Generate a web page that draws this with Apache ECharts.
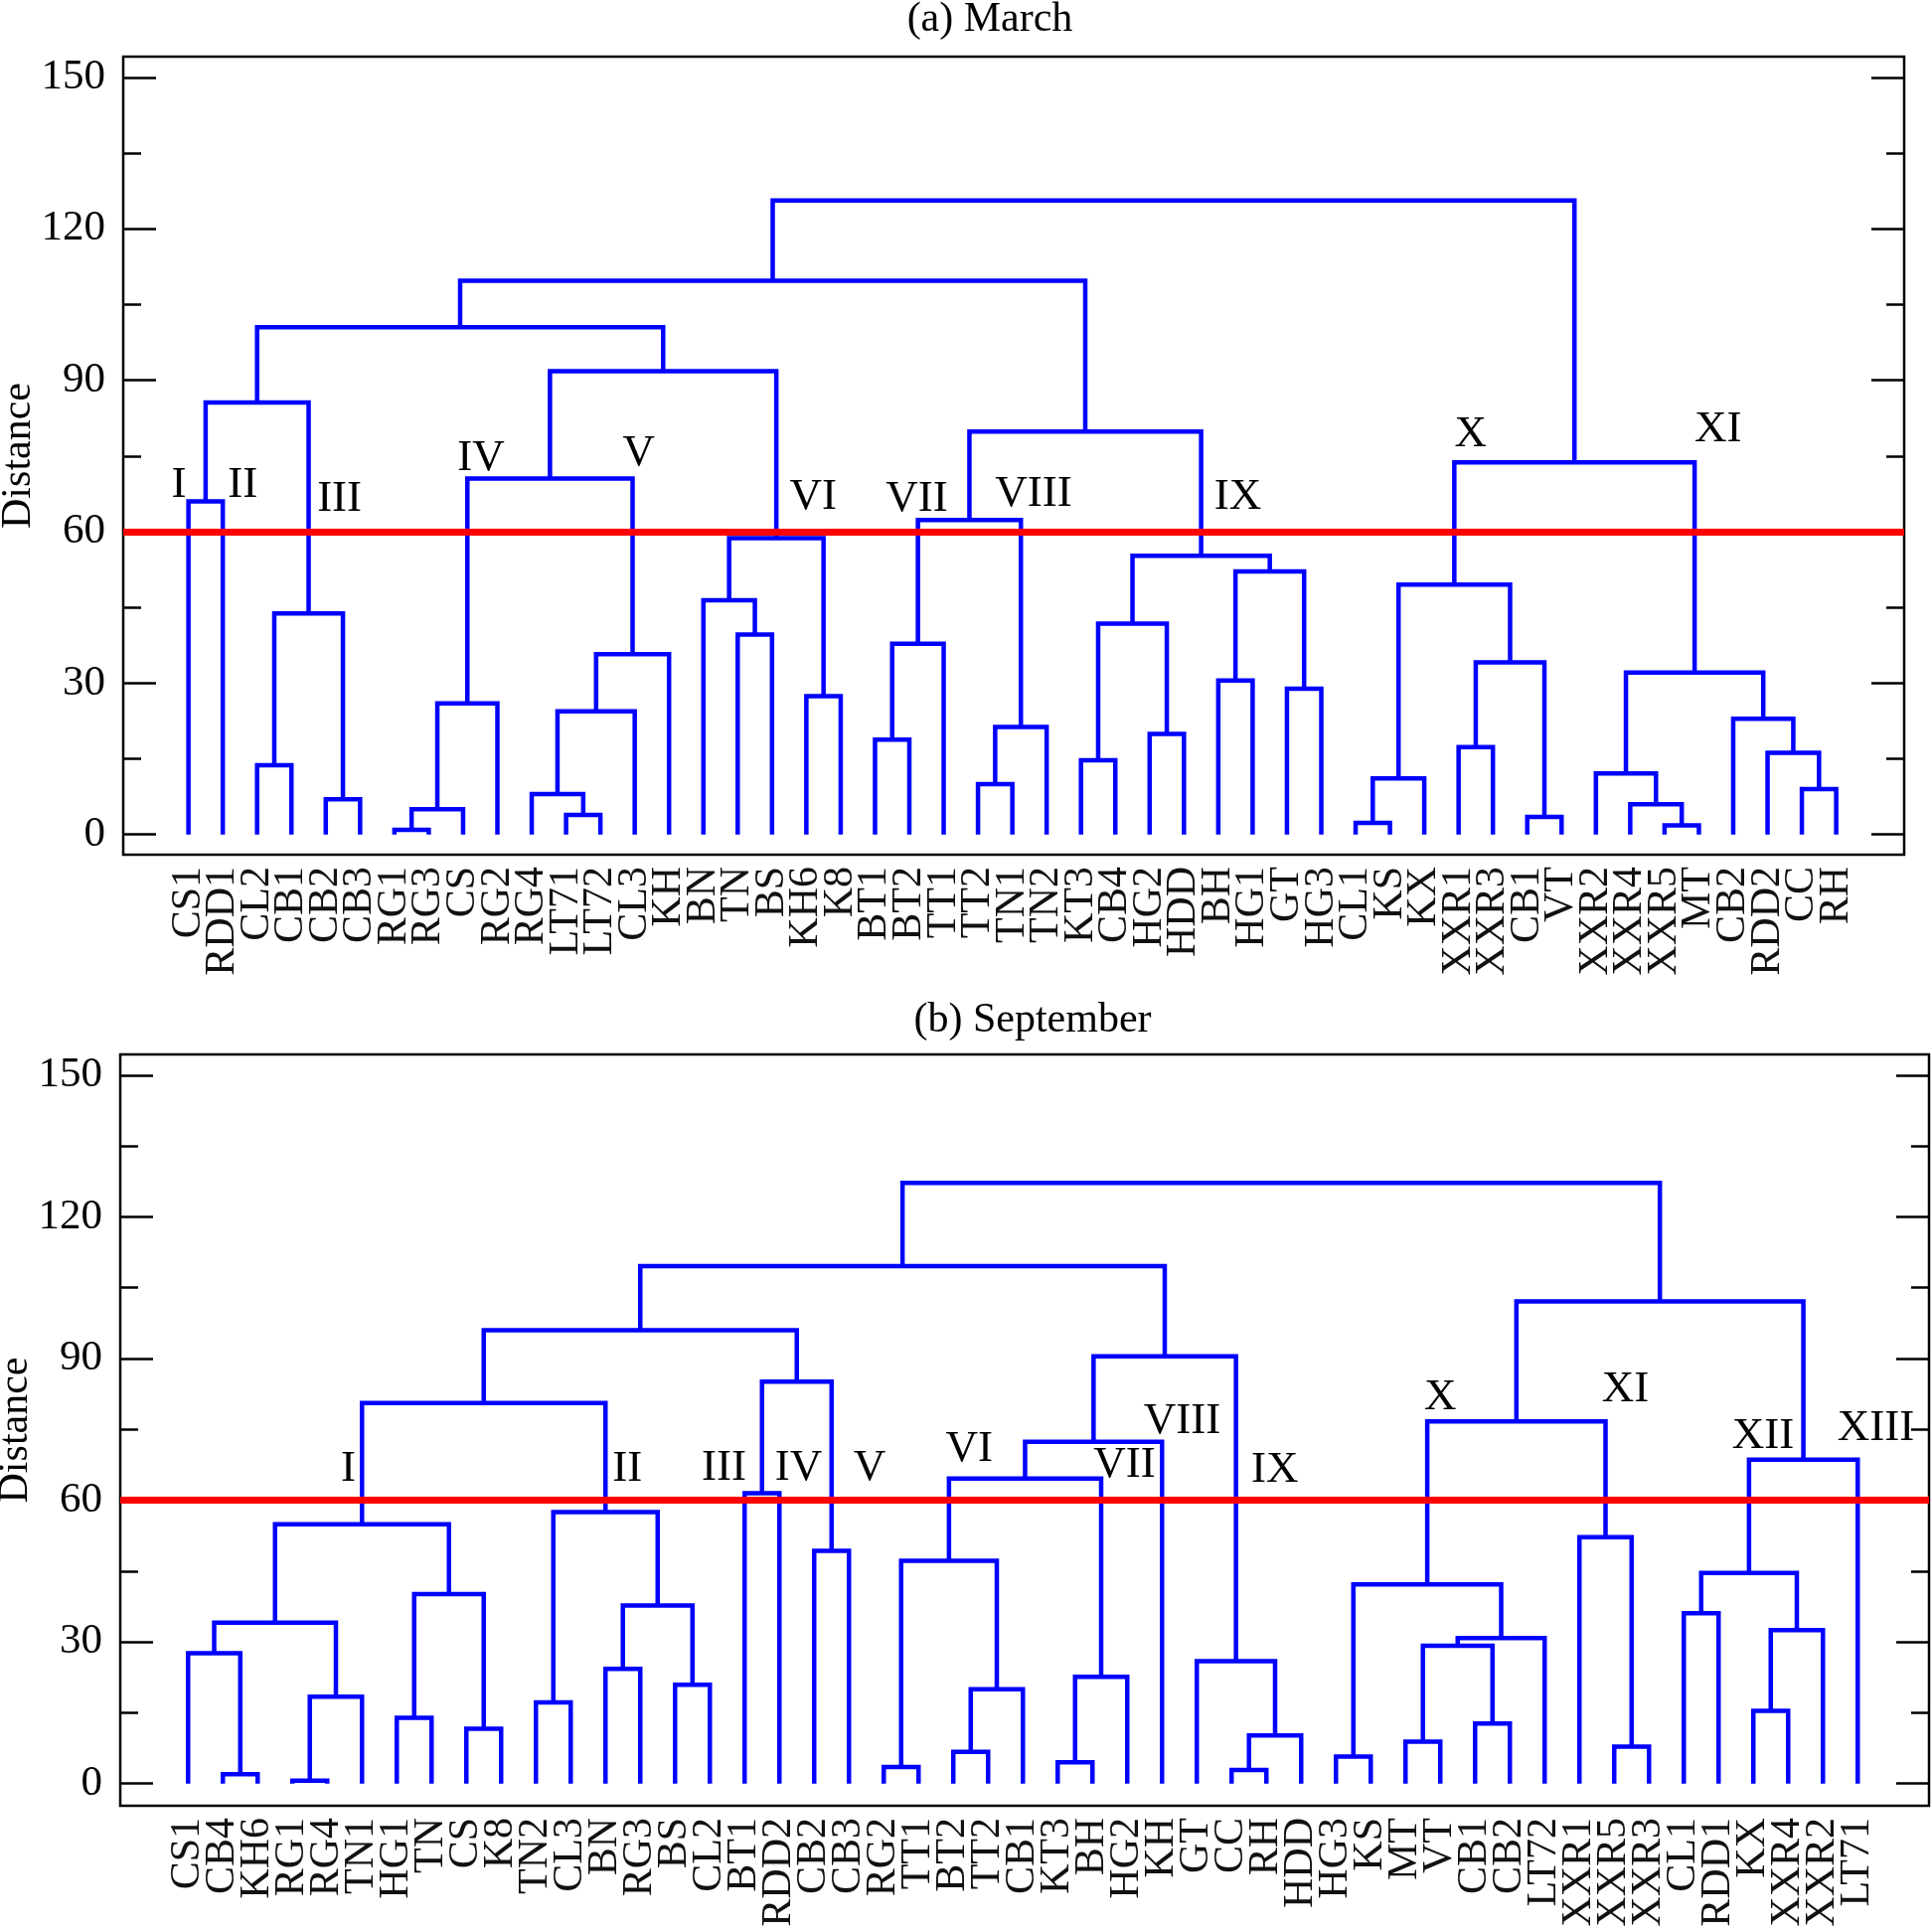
<!DOCTYPE html>
<html><head><meta charset="utf-8">
<script src="https://cdn.jsdelivr.net/npm/echarts@6/dist/echarts.min.js"></script>
<style>html,body{margin:0;padding:0;background:#fff}#c{width:1944px;height:1941px}</style>
</head><body><div id="c"></div>
<script>
// ---------- (a) March ----------
const leavesMarch = ['CS1','RDD1','CL2','CB1','CB2','CB3','RG1','RG3','CS','RG2','RG4','LT71','LT72','CL3','KH',
  'BN','TN','BS','KH6','K8','BT1','BT2','TT1','TT2','TN1','TN2','KT3','CB4','HG2','HDD','BH','HG1','GT','HG3',
  'CL1','KS','KX','XXR1','XXR3','CB1','VT','XXR2','XXR4','XXR5','MT','CB2','RDD2','CC','RH'];
// linkage rows: [child A, child B, merge distance]; ids < 49 are leaves, id 49+k is merge row k
const linkageMarch = [
  [6,7,0.9],[43,44,1.8],[34,35,2.3],[39,40,3.5],[11,12,3.9],[49,8,5.0],[42,50,6.0],[4,5,7.0],
  [10,53,8.0],[47,48,9.0],[23,24,10.0],[51,36,11.1],[41,55,12.1],[2,3,13.7],[26,27,14.7],[46,58,16.2],
  [37,38,17.3],[20,21,18.8],[28,29,19.9],[59,25,21.3],[45,64,22.9],[57,13,24.4],[54,9,26.0],[18,19,27.4],
  [32,33,28.9],[30,31,30.5],[61,69,32.1],[65,52,34.1],[70,14,35.7],[66,22,37.8],[16,17,39.6],[63,67,41.8],
  [62,56,43.8],[15,79,46.4],[60,76,49.5],[74,73,52.1],[80,84,55.2],[82,72,58.7],[78,68,62.3],[0,1,66.0],
  [71,77,70.5],[83,75,73.7],[87,85,79.8],[88,81,85.6],[89,86,91.8],[92,93,100.5],[94,91,109.7],[95,90,125.6]
];
const clusterNamesMarch = ['I','II','III','IV','V','VI','VII','VIII','IX','X','XI'];
const clusterNameAnchorsMarch = [[-0.28,69.2],[1.58,69.2],[4.4,66.4],[8.52,74.6],[13.12,75.5],[18.2,66.8],
  [21.22,66.4],[24.62,67.4],[30.57,66.8],[37.35,79.3],[44.56,80.2]];

// ---------- (b) September ----------
const leavesSeptember = ['CS1','CB4','KH6','RG1','RG4','TN1','HG1','TN','CS','K8','TN2','CL3','BN','RG3','BS','CL2',
  'BT1','RDD2','CB2','CB3','RG2','TT1','BT2','TT2','CB1','KT3','BH','HG2','KH','GT','CC','RH','HDD','HG3','KS',
  'MT','VT','CB1','CB2','LT72','XXR1','XXR5','XXR3','CL1','RDD1','KX','XXR4','XXR2','LT71'];
const linkageSeptember = [
  [3,4,0.6],[1,2,2.0],[30,31,2.9],[20,21,3.5],[25,26,4.5],[33,34,5.7],[22,23,6.7],[41,42,7.8],
  [35,36,8.9],[51,32,10.2],[8,9,11.6],[37,38,12.7],[6,7,13.9],[45,46,15.4],[10,11,17.2],[49,5,18.4],
  [55,24,20.0],[14,15,20.9],[53,27,22.6],[12,13,24.3],[29,58,25.9],[0,50,27.6],[57,60,29.2],[71,39,30.8],
  [62,47,32.5],[70,64,34.1],[43,44,36.1],[68,66,37.7],[61,59,40.1],[54,72,42.2],[75,73,44.6],[52,65,47.2],
  [18,19,49.3],[40,56,52.2],[74,77,54.9],[63,76,57.5],[16,17,61.5],[80,67,64.6],[79,48,68.6],[86,28,72.4],
  [78,82,76.7],[83,84,80.6],[85,81,85.1],[88,69,90.5],[90,91,96.0],[89,87,102.1],[93,92,109.6],[95,94,127.2]
];
const clusterNamesSeptember = ['I','II','III','IV','V','VI','VII','VIII','IX','X','XI','XII','XIII'];
const clusterNameAnchorsSeptember = [[4.61,66.7],[12.63,66.5],[15.41,66.9],[17.55,66.9],[19.59,66.9],[22.46,70.9],
  [26.92,67.5],[28.58,76.7],[31.24,66.3],[36.0,81.8],[41.32,83.4],[45.28,73.5],[48.52,75.3]];

const yTickValues = [0,30,60,90,120,150];
const yMinorTickValues = [15,45,75,105,135];
const cutDistance = 60;
const panelTitles = ['(a) March','(b) September'];
const yAxisTitle = 'Distance';

// ---------- build ----------
const SERIF = 'Liberation Serif';
function buildLinks(leaves, linkage){
  const pos = leaves.map((_, i) => i);
  const hgt = leaves.map(() => 0);
  const links = [];
  linkage.forEach(([a, b, h]) => {
    links.push([pos[a], hgt[a], pos[b], hgt[b], h]);
    pos.push((pos[a] + pos[b]) / 2);
    hgt.push(h);
  });
  return links;
}
function renderLink(params, api){
  const p0 = api.coord([api.value(0), api.value(1)]);
  const p1 = api.coord([api.value(0), api.value(4)]);
  const p2 = api.coord([api.value(2), api.value(4)]);
  const p3 = api.coord([api.value(2), api.value(3)]);
  return {type:'polyline', shape:{points:[p0,p1,p2,p3]},
    style:{stroke:'#0000ff', lineWidth:4.5, fill:null, lineJoin:'miter'}};
}
function labelRenderer(names){
  return function(params, api){
    const p = api.coord([api.value(0), api.value(1)]);
    return {type:'text', x:p[0], y:p[1],
      style:{text:names[params.dataIndex], font:'45px "Liberation Serif"', fill:'#000',
        align:'center', verticalAlign:'middle'}};
  };
}
function yAxes(gridIndex, min, max){
  const base = {type:'value', gridIndex, min, max, splitLine:{show:false}, axisLine:{show:false, onZero:false}};
  const tickStyle = {color:'#000', width:2.5};
  return [
    Object.assign({}, base, {position:'left',
      axisTick:{show:true, inside:true, length:33, customValues:yTickValues, lineStyle:tickStyle},
      axisLabel:{show:true, customValues:yTickValues, fontSize:43, fontFamily:SERIF, color:'#000', margin:18},
      name:yAxisTitle, nameLocation:'middle', nameGap:84, nameMoveOverlap:false,
      nameTextStyle:{fontSize:42, fontFamily:SERIF, color:'#000'}}),
    Object.assign({}, base, {position:'left',
      axisTick:{show:true, inside:true, length:18, customValues:yMinorTickValues, lineStyle:tickStyle},
      axisLabel:{show:false}}),
    Object.assign({}, base, {position:'right',
      axisTick:{show:true, inside:true, length:33, customValues:yTickValues, lineStyle:tickStyle},
      axisLabel:{show:false}}),
    Object.assign({}, base, {position:'right',
      axisTick:{show:true, inside:true, length:18, customValues:yMinorTickValues, lineStyle:tickStyle},
      axisLabel:{show:false}})
  ];
}
function xAxis(gridIndex, leaves, min, max){
  // blank guard labels just inside each end keep the first/last leaf names from being dropped
  const values = [min + 0.3].concat(leaves.map((_, i) => i), [max - 0.3]);
  return {type:'value', gridIndex, min, max, position:'bottom',
    splitLine:{show:false}, axisLine:{show:false, onZero:false}, axisTick:{show:false},
    axisLabel:{customValues: values, rotate:90, hideOverlap:false,
      formatter: v => (Number.isInteger(v) && leaves[v] !== undefined) ? leaves[v] : ' ',
      fontSize:42, lineHeight:28, fontFamily:SERIF, color:'#111', margin:12}};
}
function panelSeries(xi, yi, leaves, linkage, names, anchors){
  return [
    {type:'custom', xAxisIndex:xi, yAxisIndex:yi, renderItem:renderLink, clip:false, z:2,
      encode:{x:[0,2], y:[1,3,4]},
      data: buildLinks(leaves, linkage),
      markLine:{silent:true, symbol:['none','none'], label:{show:false}, z:5,
        lineStyle:{color:'#ff0000', width:7, type:'solid'}, data:[{yAxis:cutDistance}]}},
    {type:'custom', xAxisIndex:xi, yAxisIndex:yi, renderItem:labelRenderer(names), z:6,
      encode:{x:0, y:1}, data: anchors}
  ];
}

const chart = echarts.init(document.getElementById('c'), null, {renderer:'canvas'});
chart.setOption({
  animation:false,
  backgroundColor:'#fff',
  grid:[
    {left:124, top:57, width:1792, height:803, show:true, borderColor:'#000', borderWidth:2.5,
      containLabel:false, outerBoundsMode:'none'},
    {left:121, top:1061, width:1820, height:756, show:true, borderColor:'#000', borderWidth:2.5,
      containLabel:false, outerBoundsMode:'none'}
  ],
  graphic:[
    {type:'text', x:996, y:20, style:{text:panelTitles[0], font:'42px "Liberation Serif"', fill:'#000', align:'center', verticalAlign:'middle'}},
    {type:'text', x:1039, y:1027, style:{text:panelTitles[1], font:'42px "Liberation Serif"', fill:'#000', align:'center', verticalAlign:'middle'}}
  ],
  xAxis:[ xAxis(0, leavesMarch, -1.9, 49.98), xAxis(1, leavesSeptember, -1.95, 50.05) ],
  yAxis:[].concat(yAxes(0, -4.0, 154.1), yAxes(1, -4.7, 154.4)),
  series:[].concat(
    panelSeries(0, 0, leavesMarch, linkageMarch, clusterNamesMarch, clusterNameAnchorsMarch),
    panelSeries(1, 4, leavesSeptember, linkageSeptember, clusterNamesSeptember, clusterNameAnchorsSeptember)
  )
});
</script></body></html>
